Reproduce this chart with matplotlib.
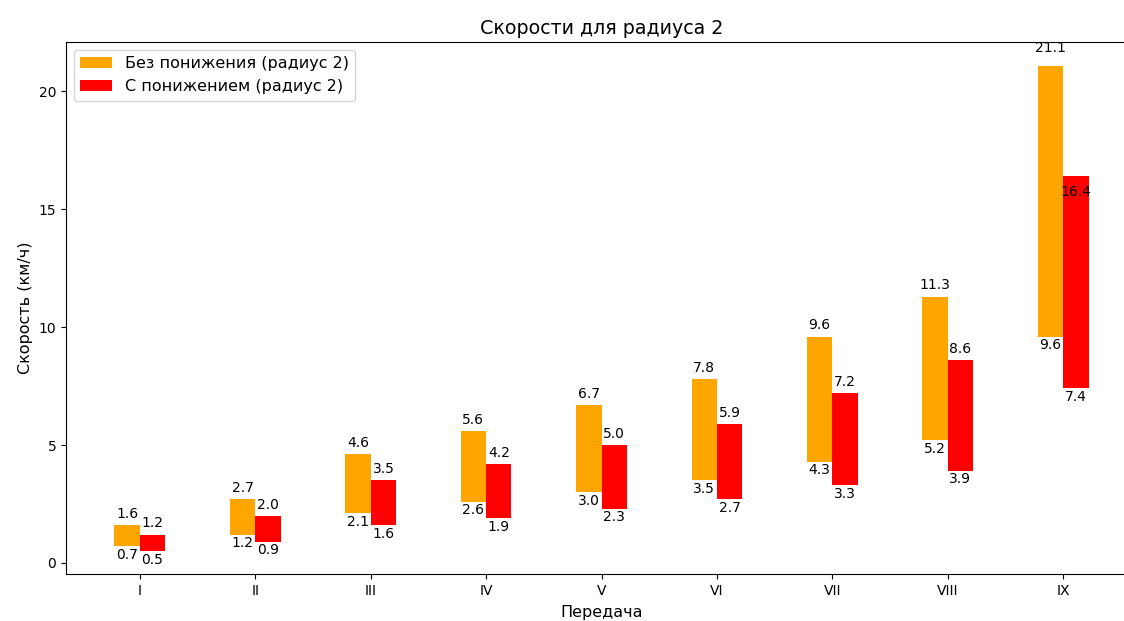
import matplotlib
matplotlib.use("Agg")
import matplotlib.pyplot as plt
import numpy as np

# gears and speed ranges (km/h) for radius 2
gears = ["I", "II", "III", "IV", "V", "VI", "VII", "VIII", "IX"]
no_drop_low = [0.7, 1.2, 2.1, 2.6, 3.0, 3.5, 4.3, 5.2, 9.6]
no_drop_high = [1.6, 2.7, 4.6, 5.6, 6.7, 7.8, 9.6, 11.3, 21.1]
drop_low = [0.5, 0.9, 1.6, 1.9, 2.3, 2.7, 3.3, 3.9, 7.4]
drop_high = [1.2, 2.0, 3.5, 4.2, 5.0, 5.9, 7.2, 8.6, 16.4]

# extra vertical shift (points) for a few top labels, as in the original
no_drop_nudge = {8: 4.5}
drop_nudge = {8: -19.5}


def draw_ranges(ax, xpos, low, high, color, label, width, nudge):
    low = np.array(low)
    high = np.array(high)
    bars = ax.bar(xpos, high - low, width=width, bottom=low, color=color, label=label)
    for i, (rect, lo, hi) in enumerate(zip(bars, low, high)):
        cx = rect.get_x() + rect.get_width() / 2
        ax.annotate(f"{hi:.1f}", (cx, hi), xytext=(0, 3 + nudge.get(i, 0)),
                    textcoords="offset points", ha="center", va="bottom", fontsize=10)
        ax.annotate(f"{lo:.1f}", (cx, lo), xytext=(0, -1), textcoords="offset points",
                    ha="center", va="top", fontsize=10)


fig = plt.figure(figsize=(11.24, 6.21), dpi=100)
ax = fig.add_axes([66 / 1124, 1 - 574 / 621, 1071 / 1124, (574 - 42) / 621])

x = np.arange(len(gears))
width = 0.22
draw_ranges(ax, x - width / 2, no_drop_low, no_drop_high, "orange",
            "Без понижения (радиус 2)", width, no_drop_nudge)
draw_ranges(ax, x + width / 2, drop_low, drop_high, "red",
            "С понижением (радиус 2)", width, drop_nudge)

ax.set_xticks(x)
ax.set_xticklabels(gears)
ax.set_xlim(-0.64, 8.64)
ax.set_ylim(-0.47, 22.1)
ax.set_title("Скорости для радиуса 2", fontsize=13.7)
ax.set_xlabel("Передача", fontsize=11.5, labelpad=5)
ax.set_ylabel("Скорость (км/ч)", fontsize=11.5)
ax.legend(loc="upper left", fontsize=11.5)

fig.savefig("out.png", dpi=100)
